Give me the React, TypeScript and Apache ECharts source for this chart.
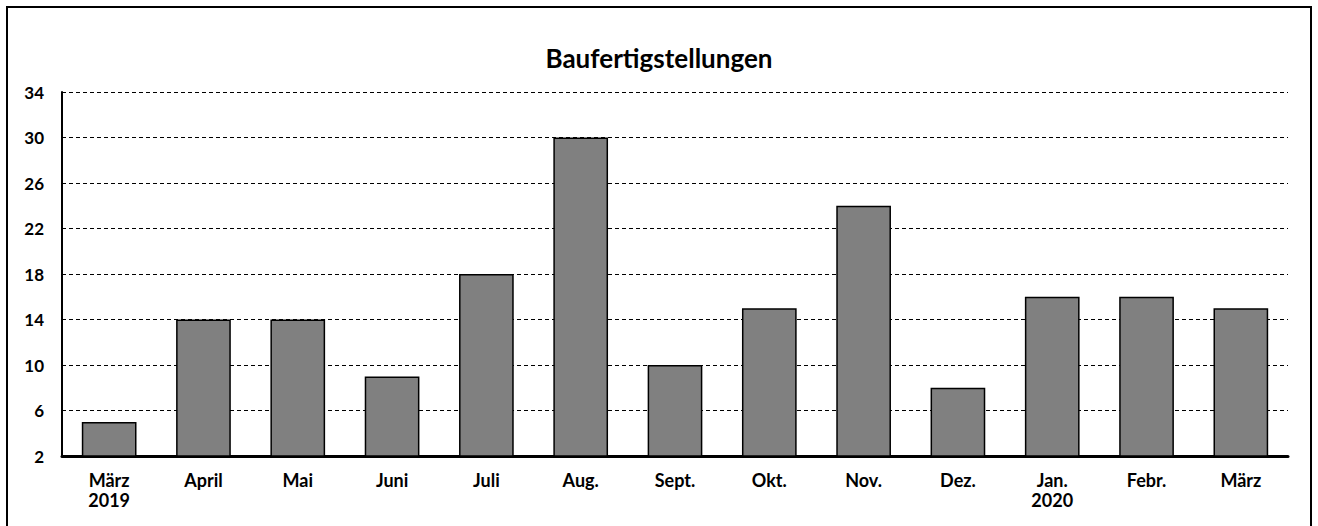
import React, { useEffect, useRef } from "react";
import * as echarts from "echarts";

const categories = ["März\n2019", "April", "Mai", "Juni", "Juli", "Aug.", "Sept.", "Okt.", "Nov.", "Dez.", "Jan.\n2020", "Febr.", "März"];
const values = [5, 14, 14, 9, 18, 30, 10, 15, 24, 8, 16, 16, 15];
const title = "Baufertigstellungen";
const yMin = 2;
const yMax = 34;
const yInterval = 4;

export default function App() {
  const ref = useRef<HTMLDivElement>(null);
  useEffect(() => {
    document.body.style.margin = "0";
    const chart = echarts.init(ref.current!, null, { renderer: "svg" });
    const font = "Lato, 'Open Sans', sans-serif";
    chart.setOption({
      animation: false,
      backgroundColor: "#fff",
      title: {
        text: title,
        left: "center",
        top: 40,
        textStyle: { fontFamily: font, fontWeight: "bold", fontSize: 26, color: "#000" },
      },
      graphic: [
        {
          type: "rect",
          shape: { x: 7, y: 7, width: 1304, height: 540 },
          style: { fill: "none", stroke: "#000", lineWidth: 2 },
          silent: true,
        },
      ],
      grid: { left: 62, right: 30, top: 92, bottom: 70, containLabel: false },
      xAxis: {
        type: "category",
        data: categories,
        axisLine: { lineStyle: { color: "#000", width: 3 } },
        axisTick: { show: false },
        axisLabel: {
          fontFamily: font,
          fontWeight: "bold",
          fontSize: 18,
          color: "#000",
          margin: 14,
          lineHeight: 20,
          interval: 0,
        },
      },
      yAxis: {
        type: "value",
        min: yMin,
        max: yMax,
        interval: yInterval,
        axisLine: { show: true, lineStyle: { color: "#000", width: 2 } },
        axisTick: { show: false },
        axisLabel: {
          fontFamily: font,
          fontWeight: "bold",
          fontSize: 17,
          color: "#000",
          margin: 18,
        },
        splitLine: { show: true, lineStyle: { color: "#000", width: 1, type: [4, 3] } },
      },
      series: [
        {
          type: "bar",
          data: values,
          barCategoryGap: "42%",
          itemStyle: { color: "#808080", borderColor: "#000", borderWidth: 1.5 },
        },
      ],
    });
    return () => chart.dispose();
  }, []);
  return <div ref={ref} style={{ position: "absolute", left: 0, top: 0, width: 1318, height: 526 }} />;
}
